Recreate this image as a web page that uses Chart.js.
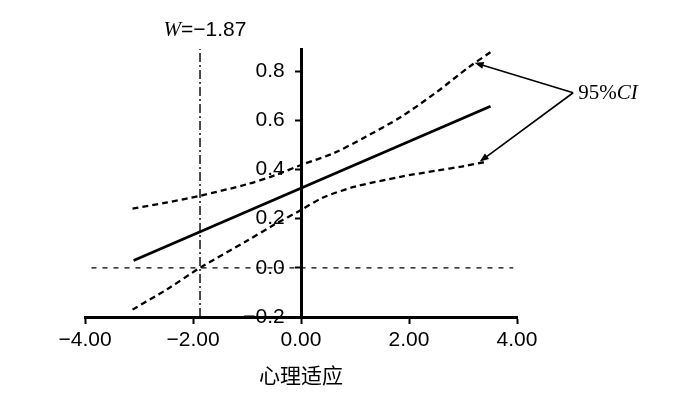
<!DOCTYPE html>
<html>
<head>
<meta charset="utf-8">
<script src="https://cdn.jsdelivr.net/npm/chart.js@4/dist/chart.umd.min.js"></script>
<style>
  html, body { margin: 0; padding: 0; background: #fff; }
  #wrap { width: 700px; height: 394px; }
</style>
</head>
<body>
<div id="wrap"><canvas id="c" width="700" height="394"></canvas></div>
<script>
// ---- data ----
const fitX = [-3.1, 3.51];
const fitY = [0.03, 0.657];

const upperX = [-3.12, -2.5, -1.87, -1.0, -0.5, 0, 0.6, 1.2, 1.86, 2.5, 3.1, 3.53];
const upperY = [0.241, 0.265, 0.293, 0.34, 0.375, 0.418, 0.466, 0.533, 0.615, 0.713, 0.815, 0.88];

const lowerX = [-3.12, -2.5, -1.87, -1.0, -0.5, 0, 0.4, 1.0, 1.86, 2.5, 3.0, 3.4];
const lowerY = [-0.17, -0.09, 0.0, 0.11, 0.175, 0.235, 0.285, 0.33, 0.371, 0.395, 0.413, 0.43];

const zeroLineX = [-3.88, 3.93];
const zeroLineY = [0, 0];

const wValue = -1.87;
const wLineY = [-0.2, 0.89];

const xTickValues = [-4, -2, 0, 2, 4];
const xTickLabels = ['\u22124.00', '\u22122.00', '0.00', '2.00', '4.00'];
const yTickValues = [-0.2, 0, 0.2, 0.4, 0.6, 0.8];
const yTickLabels = ['\u22120.2', '0.0', '0.2', '0.4', '0.6', '0.8'];

const xTitle = '心理适应';
const wLabel = '=\u22121.87';
const ciLabel = '95%';
// annotation anchors (data units): label origin, upper tip, lower tip
const ciArrowFrom = {x: 5.04, y: 0.712};
const ciArrowTips = [{x: 3.215, y: 0.834}, {x: 3.31, y: 0.432}];

// ---- build ----
const pts = (xs, ys) => xs.map((x, i) => ({x: x, y: ys[i]}));
const SANS = '"Liberation Sans", Arial, sans-serif';
const SERIF = '"Liberation Serif", "Times New Roman", serif';
const Y_LABEL_GAP = '\u2002 '; // keeps right-aligned labels clear of the axis line

const annot = {
  id: 'annot',
  afterDraw(chart) {
    const ctx = chart.ctx;
    const xs = chart.scales.x, ys = chart.scales.y;
    ctx.save();
    ctx.fillStyle = '#000';
    ctx.strokeStyle = '#000';
    // W label
    const wx = xs.getPixelForValue(wValue);
    ctx.textBaseline = 'alphabetic';
    ctx.font = 'italic 21px ' + SERIF;
    const wW = ctx.measureText('W').width;
    ctx.font = '21px ' + SANS;
    const restW = ctx.measureText(wLabel).width;
    const total = wW + restW;
    const startX = wx + 5 - total / 2;
    ctx.font = 'italic 21px ' + SERIF;
    ctx.textAlign = 'left';
    ctx.fillText('W', startX, 36);
    ctx.font = '21px ' + SANS;
    ctx.fillText(wLabel, startX + wW, 36);

    // arrows
    const fx = xs.getPixelForValue(ciArrowFrom.x), fy = ys.getPixelForValue(ciArrowFrom.y);
    ctx.lineWidth = 1.6;
    ciArrowTips.forEach(t => {
      const tx = xs.getPixelForValue(t.x), ty = ys.getPixelForValue(t.y);
      const ang = Math.atan2(ty - fy, tx - fx);
      ctx.beginPath();
      ctx.moveTo(fx, fy);
      ctx.lineTo(tx - 6 * Math.cos(ang), ty - 6 * Math.sin(ang));
      ctx.stroke();
      ctx.beginPath();
      ctx.moveTo(tx, ty);
      ctx.lineTo(tx - 9 * Math.cos(ang) + 3.5 * Math.sin(ang), ty - 9 * Math.sin(ang) - 3.5 * Math.cos(ang));
      ctx.lineTo(tx - 9 * Math.cos(ang) - 3.5 * Math.sin(ang), ty - 9 * Math.sin(ang) + 3.5 * Math.cos(ang));
      ctx.closePath();
      ctx.fill();
    });
    // 95%CI label
    ctx.font = '21px ' + SERIF;
    ctx.textAlign = 'left';
    ctx.fillText(ciLabel, fx + 5, fy + 6);
    const w95 = ctx.measureText(ciLabel).width;
    ctx.font = 'italic 21px ' + SERIF;
    ctx.fillText('CI', fx + 5 + w95, fy + 6);
    ctx.restore();
  }
};

new Chart(document.getElementById('c'), {
  type: 'line',
  data: {
    datasets: [
      { data: pts(fitX, fitY), borderColor: '#000', borderWidth: 2.8, pointRadius: 0, fill: false, tension: 0 },
      { data: pts(upperX, upperY), borderColor: '#000', borderWidth: 2.3, borderDash: [6, 4], pointRadius: 0, fill: false, tension: 0.3 },
      { data: pts(lowerX, lowerY), borderColor: '#000', borderWidth: 2.3, borderDash: [6, 4], pointRadius: 0, fill: false, tension: 0.3 },
      { data: pts(zeroLineX, zeroLineY), borderColor: '#000', borderWidth: 1.4, borderDash: [5, 6], pointRadius: 0, fill: false },
      { data: pts([wValue, wValue], wLineY), borderColor: '#000', borderWidth: 1.4, borderDash: [9, 3, 2, 3], pointRadius: 0, fill: false }
    ]
  },
  options: {
    responsive: false,
    animation: false,
    devicePixelRatio: 1,
    layout: { padding: { left: 85, right: 183, top: 49, bottom: 77 } },
    plugins: { legend: { display: false }, tooltip: { enabled: false } },
    scales: {
      x: {
        type: 'linear',
        position: { y: -0.2 },
        min: -4, max: 4,
        afterBuildTicks: s => { s.ticks = xTickValues.map(v => ({ value: v })); },
        ticks: {
          autoSkip: false, maxRotation: 0, padding: 6,
          color: '#000', font: { family: SANS, size: 21 },
          callback: (v, i) => xTickLabels[i]
        },
        grid: { drawOnChartArea: false, drawTicks: true, tickLength: 5, tickWidth: 2, tickColor: '#000' },
        border: { display: true, color: '#000', width: 3 },
        title: { display: true, text: xTitle, color: '#000', font: { family: '"Noto Sans CJK SC", sans-serif', size: 21 }, padding: { top: 3 } }
      },
      y: {
        type: 'linear',
        position: { x: 0 },
        min: -0.2, max: 0.89,
        afterBuildTicks: s => { s.ticks = yTickValues.map(v => ({ value: v })); },
        ticks: {
          autoSkip: false, padding: 5,
          color: '#000', font: { family: SANS, size: 21 },
          callback: (v, i) => yTickLabels[i] + Y_LABEL_GAP
        },
        grid: { drawOnChartArea: false, drawTicks: true, tickLength: 5, tickWidth: 2, tickColor: '#000' },
        border: { display: true, color: '#000', width: 3 }
      }
    }
  },
  plugins: [annot]
});
</script>
</body>
</html>
